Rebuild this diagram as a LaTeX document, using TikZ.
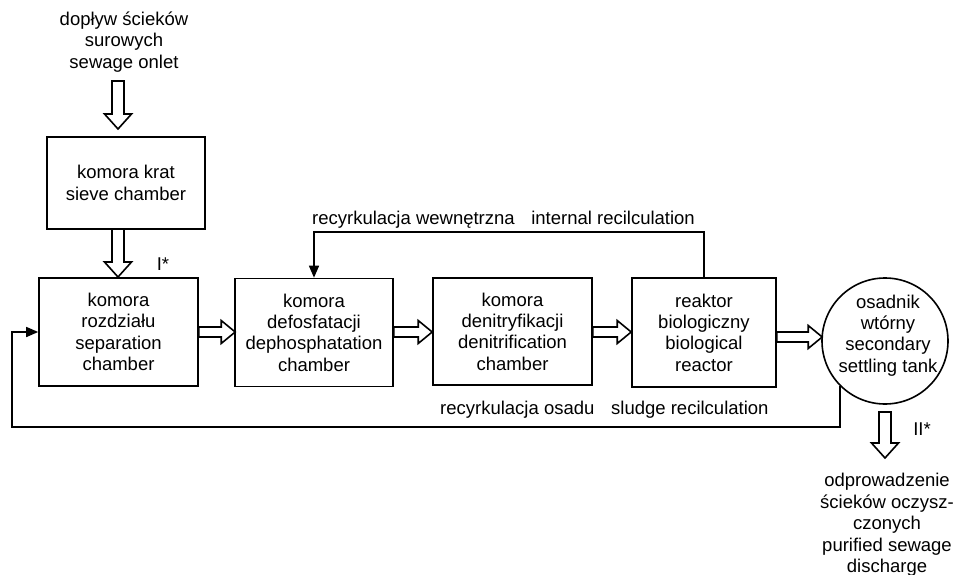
\documentclass[tikz,border=0pt]{standalone}
\usepackage{fontspec}
\setmainfont{Liberation Sans}
\usetikzlibrary{calc,arrows.meta}
\tikzset{
  every node/.style={font=\fontsize{18.5}{21.4}\selectfont},
  box/.style={draw, line width=1.6pt, rectangle, inner sep=0pt, align=center},
  txt/.style={inner sep=0pt, align=center},
  line/.style={line width=1.5pt},
  harr/.style={draw, line width=1.6pt, fill=white},
  tip/.style={-{Triangle[width=10pt,length=12pt]}}
}
\newcommand\harrdown[2]{\draw[harr] let \p1=#1, \p2=#2 in
  (\x1-6pt,\y1) -- (\x1-6pt,\y2+15pt) -- (\x1-13.5pt,\y2+15pt) -- (\x1,\y2)
  -- (\x1+13.5pt,\y2+15pt) -- (\x1+6pt,\y2+15pt) -- (\x1+6pt,\y1) -- cycle;}
\newcommand\harrright[2]{\draw[harr] let \p1=#1, \p2=#2 in
  (\x1,\y1+5pt) -- (\x2-14pt,\y1+5pt) -- (\x2-14pt,\y1+11.5pt) -- (\x2,\y1)
  -- (\x2-14pt,\y1-11.5pt) -- (\x2-14pt,\y1-5pt) -- (\x1,\y1-5pt) -- cycle;}
\begin{document}
\begin{tikzpicture}[x=1pt,y=-1pt]
\useasboundingbox (0,0) rectangle (956,575);

% boxes
\node[box, minimum width=158pt, minimum height=92pt] (sieve) at (126,183) {komora krat\\sieve chamber};
\node[box, minimum width=159pt, minimum height=108pt] (sep) at (118.5,332) {komora\\rozdziału\\separation\\chamber};
\node[box, minimum width=158pt, minimum height=108pt] (defos) at (314,332.5) {komora\\defosfatacji\\dephosphatation\\chamber};
\node[box, minimum width=159pt, minimum height=107pt] (denit) at (512.5,331.5) {komora\\denitryfikacji\\denitrification\\chamber};
\node[box, minimum width=144pt, minimum height=109pt] (reakt) at (704,332.5) {reaktor\\biologiczny\\biological\\reactor};
\node[draw, circle, line width=1.6pt, minimum size=126pt, inner sep=0pt] (settle) at (885,341) {};
\node[txt] (settletxt) at (888,335.5) {osadnik\\wtórny\\secondary\\settling tank};

% texts
\node[txt] (inlet) at (124,42) {dopływ ścieków\\surowych\\sewage onlet};
\node[txt] (disch) at (887,525) {odprowadzenie\\ścieków oczysz-\\czonych\\purified sewage\\discharge};
\node[txt, anchor=base] (one) at (163,270) {I*};
\node[txt, anchor=base] (two) at (922,435) {II*};
\node[txt, anchor=base west] (irpl) at (312,224.5) {recyrkulacja wewnętrzna};
\node[txt, anchor=base east] (iren) at (695,224.5) {internal recilculation};
\node[txt, anchor=base west] (slpl) at (440,414.5) {recyrkulacja osadu};
\node[txt, anchor=base west] (slen) at (611,414.5) {sludge recilculation};

% coordinates
\coordinate (intop) at (118,81);
\coordinate (intip) at (118,129);
\coordinate (sstop) at (118,229);
\coordinate (sstip) at (118,277);
\coordinate (outtop) at (885,412);
\coordinate (outtip) at (885,458);
\coordinate (irtop) at (0,232);
\coordinate (slb) at (12,427);

% hollow arrows
\harrdown{(intop)}{(intip)}
\harrdown{(sstop)}{(sstip)}
\harrright{(sep.east)}{($(defos.west)+(1,0)$)}
\harrright{($(defos.east)+(0,-0.5)$)}{($(denit.west)+(0,0.5)$)}
\harrright{($(denit.east)+(0,0.5)$)}{(reakt.west)}
\harrright{($(reakt.east)+(0,4.5)$)}{($(settle.west)+(1,-4)$)}
\harrdown{(outtop)}{(outtip)}

% recirculation lines
\draw[line, tip] (reakt.north) -- (reakt.north |- irtop) -| (defos.north);
\draw[line, tip] (settle.225.7) |- (slb) |- (sep.west);
\end{tikzpicture}
\end{document}
